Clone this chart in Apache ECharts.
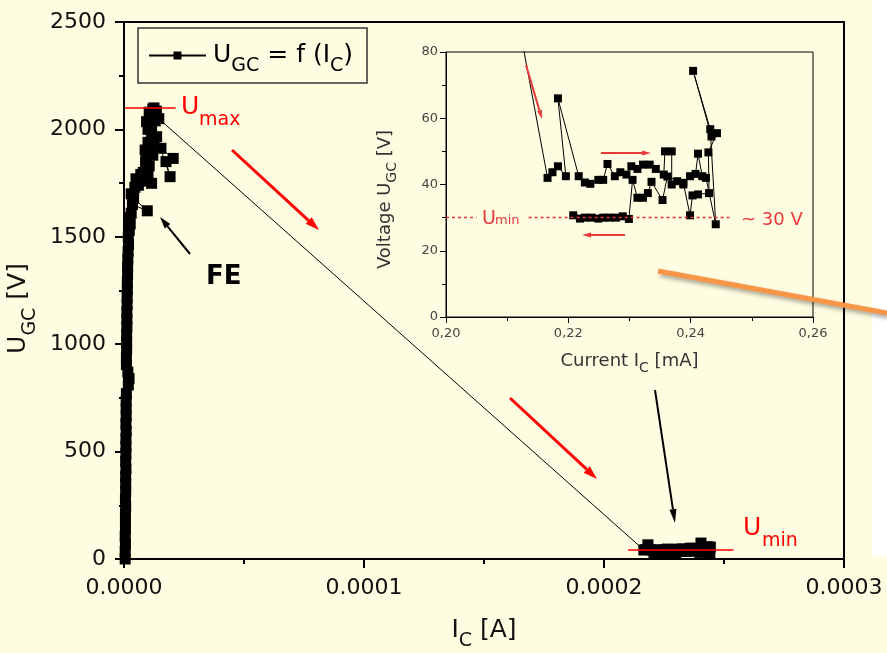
<!DOCTYPE html>
<html>
<head>
<meta charset="utf-8">
<title>UGC = f (IC)</title>
<script src="https://cdn.jsdelivr.net/npm/echarts@6/dist/echarts.min.js"></script>
<style>
  html, body { margin: 0; padding: 0; background: #fffde1; }
  #chart { width: 887px; height: 653px; }
</style>
</head>
<body>
<div id="chart"></div>
<script>
// rising part along the voltage axis (current in mA, voltage in V)
const barCurrent = [0.0005, 0.0005, 0.0006, 0.0005, 0.0006, 0.0006, 0.0006, 0.0007, 0.0006, 0.0007,
  0.0007, 0.0007, 0.0008, 0.0007, 0.0008, 0.0008, 0.0008, 0.0009, 0.0008, 0.0009,
  0.0009, 0.0009, 0.0010, 0.0018, 0.0021, 0.0016, 0.0010, 0.0010, 0.0011, 0.0011,
  0.0011, 0.0012, 0.0012, 0.0012, 0.0013, 0.0013, 0.0014, 0.0014, 0.0015, 0.0015,
  0.0016, 0.0017, 0.0019]
const barVoltage = [0, 35, 70, 105, 140, 175, 210, 245, 280, 315,
  350, 385, 420, 455, 490, 525, 560, 595, 630, 665,
  700, 735, 770, 810, 840, 870, 905, 940, 975, 1010,
  1045, 1080, 1115, 1150, 1185, 1220, 1255, 1290, 1325, 1360,
  1395, 1430, 1465]

// field emission cluster up to Umax (mA, V)
const feCurrent = [0.0018, 0.0022, 0.0026, 0.0020, 0.0030, 0.0035, 0.0097, 0.0040, 0.0030, 0.0045,
  0.0060, 0.0050, 0.0070, 0.0065, 0.0080, 0.0095, 0.0115, 0.0100, 0.0105, 0.0090,
  0.0095, 0.0120, 0.0088, 0.0100, 0.0110, 0.0125, 0.0154, 0.0205, 0.0175, 0.0192,
  0.0136, 0.0115, 0.0100, 0.0110, 0.0094, 0.0110, 0.0105, 0.0120, 0.0115, 0.0130,
  0.0135, 0.0125, 0.0145]
const feVoltage = [1500, 1530, 1560, 1590, 1610, 1650, 1621, 1680, 1700, 1730,
  1740, 1770, 1790, 1760, 1800, 1760, 1749, 1790, 1830, 1850,
  1870, 1880, 1904, 1940, 1920, 1960, 1912, 1865, 1850, 1780,
  1966, 1990, 2000, 2020, 2036, 2050, 2080, 2095, 2070, 2040,
  2085, 2100, 2050]

// low voltage branch after breakdown (mA, V) - shown in the inset
const lowCurrent = [0.2166, 0.2174, 0.2183, 0.2196, 0.2183, 0.2217, 0.2227, 0.2236, 0.2249, 0.2257,
  0.2264, 0.2276, 0.2285, 0.2295, 0.2303, 0.2313, 0.2322, 0.2333, 0.2343, 0.2356,
  0.2358, 0.2369, 0.2369, 0.2378, 0.2388, 0.2399, 0.2408, 0.2412, 0.2419, 0.2425,
  0.2441, 0.2432, 0.2404, 0.2434, 0.2443, 0.2429, 0.2430, 0.2412, 0.2403, 0.2399,
  0.2388, 0.2362, 0.2354, 0.2336, 0.2330, 0.2322, 0.2313, 0.2305, 0.2299, 0.2289,
  0.2278, 0.2267, 0.2257, 0.2249, 0.2238, 0.2227, 0.2219, 0.2208]
const lowVoltage = [42, 43.7, 45.5, 42.5, 66, 42.5, 40.6, 40.2, 41.4, 41.4,
  46.2, 42.5, 43.7, 43, 45.5, 44.7, 46, 46, 44.7, 43,
  50, 50, 40, 41, 40, 42.5, 43.2, 49.3, 42.5, 42,
  28, 56.7, 74.3, 54.5, 55.5, 49.7, 37.4, 37, 36.7, 30.7,
  40.5, 42.4, 35.3, 40.8, 37.4, 36, 36, 41.4, 29.6, 30.4,
  30, 30, 30, 29.7, 30, 30, 29.7, 30.7]

const mainXTicks = [0, 0.0001, 0.0002, 0.0003]   // A
const mainYTicks = [0, 500, 1000, 1500, 2000, 2500]
const insetXTicks = [0.20, 0.22, 0.24, 0.26]      // mA
const insetYTicks = [0, 20, 40, 60, 80]

const uMax = 2103
const uMinMain = 42
const uMinInset = 30

const FONT = 'DejaVu Sans'
const BG = '#fffde1'
const RED = '#ff0000'
const RED2 = '#e8383a'

const currentMA = barCurrent.concat(feCurrent, lowCurrent)
const voltage = barVoltage.concat(feVoltage, lowVoltage)
const mainData = currentMA.map((c, i) => [c / 1000, voltage[i]])
const insetData = currentMA.map((c, i) => [c, voltage[i]])

const chart = echarts.init(document.getElementById('chart'))

const arrow = (x1, y1, x2, y2, color, w, hl, hw) => {
  const a = Math.atan2(y2 - y1, x2 - x1)
  const bx = x2 - hl * Math.cos(a)
  const by = y2 - hl * Math.sin(a)
  const px = -Math.sin(a) * hw / 2
  const py = Math.cos(a) * hw / 2
  return [
    { type: 'line', z: 10, shape: { x1, y1, x2: bx, y2: by }, style: { stroke: color, lineWidth: w } },
    { type: 'polygon', z: 10, shape: { points: [[x2, y2], [bx + px, by + py], [bx - px, by - py]] }, style: { fill: color } },
  ]
}

const txt = (x, y, text, size, color, weight) => ({
  type: 'text', z: 11, x, y,
  style: { text, fill: color, font: (weight || 'normal') + ' ' + size + 'px "' + FONT + '"', align: 'left', verticalAlign: 'middle' },
})

const mainAxisCommon = {
  z: 5,
  axisLine: { lineStyle: { color: '#000', width: 2 } },
  axisTick: { inside: false, length: 9, lineStyle: { color: '#000', width: 2 } },
  minorTick: { show: true, splitNumber: 2, length: 5, lineStyle: { color: '#000', width: 2 } },
  splitLine: { show: false },
  nameLocation: 'middle',
}

const insetAxisCommon = {
  axisLine: { lineStyle: { color: '#000', width: 1 } },
  axisTick: { inside: false, length: 6, lineStyle: { color: '#000', width: 1 } },
  minorTick: { show: true, splitNumber: 2, length: 4, lineStyle: { color: '#000', width: 1 } },
  splitLine: { show: false },
  nameLocation: 'middle',
}

const option = {
  backgroundColor: BG,
  animation: false,
  legend: {
    data: ['ugc'],
    left: 138,
    top: 28,
    padding: [7, 14, 7, 10],
    borderColor: '#333',
    borderWidth: 1.5,
    itemWidth: 57,
    itemHeight: 10,
    formatter: () => '{a|U}{s|GC}{a| = f (I}{s|C}{a|)}',
    textStyle: {
      fontFamily: FONT,
      color: '#000',
      padding: [0, 0, 0, 2],
      rich: {
        a: { fontFamily: FONT, fontSize: 25, lineHeight: 30, color: '#000' },
        s: { fontFamily: FONT, fontSize: 19, lineHeight: 30, padding: [22, 0, 0, 0], color: '#000' },
      },
    },
  },
  grid: [
    { left: 124, right: 43, top: 22, bottom: 94, outerBoundsMode: 'none', containLabel: false, show: true, borderColor: '#000', borderWidth: 2, backgroundColor: 'transparent' },
    { left: 446, right: 74, top: 52, bottom: 336, outerBoundsMode: 'none', containLabel: false, show: true, borderColor: '#000', borderWidth: 1, backgroundColor: 'transparent' },
  ],
  xAxis: [
    {
      ...mainAxisCommon,
      type: 'value', gridIndex: 0,
      min: mainXTicks[0], max: mainXTicks[mainXTicks.length - 1], interval: 0.0001,
      axisLabel: { fontFamily: FONT, fontSize: 22, color: '#111', margin: 18, formatter: v => v.toFixed(4) },
      name: '{a|I}{s|C}{a| [A]}',
      nameGap: 56,
      nameTextStyle: {
        rich: {
          a: { fontFamily: FONT, fontSize: 25, lineHeight: 30, color: '#111' },
          s: { fontFamily: FONT, fontSize: 19, lineHeight: 30, padding: [22, 0, 0, 0], color: '#111' },
        },
      },
    },
    {
      ...insetAxisCommon,
      type: 'value', gridIndex: 1,
      min: insetXTicks[0], max: insetXTicks[insetXTicks.length - 1], interval: 0.02,
      axisLabel: { fontFamily: FONT, fontSize: 13, color: '#444', margin: 10, formatter: v => v.toFixed(2).replace('.', ',') },
      name: '{a|Current I}{s|C}{a| [mA]}',
      nameGap: 33,
      nameTextStyle: {
        rich: {
          a: { fontFamily: FONT, fontSize: 18, lineHeight: 22, color: '#333' },
          s: { fontFamily: FONT, fontSize: 14, lineHeight: 22, padding: [14, 0, 0, 0], color: '#333' },
        },
      },
    },
  ],
  yAxis: [
    {
      ...mainAxisCommon,
      type: 'value', gridIndex: 0,
      min: mainYTicks[0], max: mainYTicks[mainYTicks.length - 1], interval: 500,
      axisLabel: { fontFamily: FONT, fontSize: 22, color: '#111', margin: 18, formatter: v => String(v) },
      name: '{a|U}{s|GC}{a| [V]}',
      nameGap: 88,
      nameTextStyle: {
        padding: [0, 36, 0, 0],
        rich: {
          a: { fontFamily: FONT, fontSize: 25, lineHeight: 30, color: '#111' },
          s: { fontFamily: FONT, fontSize: 19, lineHeight: 30, padding: [22, 0, 0, 0], color: '#111' },
        },
      },
    },
    {
      ...insetAxisCommon,
      type: 'value', gridIndex: 1,
      min: insetYTicks[0], max: insetYTicks[insetYTicks.length - 1], interval: 20,
      axisLabel: { fontFamily: FONT, fontSize: 13, color: '#444', margin: 8 },
      name: '{a|Voltage U}{s|GC}{a| [V]}',
      nameGap: 50,
      nameTextStyle: {
        padding: [0, 30, 0, 0],
        rich: {
          a: { fontFamily: FONT, fontSize: 18, lineHeight: 22, color: '#333' },
          s: { fontFamily: FONT, fontSize: 14, lineHeight: 22, padding: [14, 0, 0, 0], color: '#333' },
        },
      },
    },
  ],
  series: [
    {
      name: 'ugc',
      type: 'line',
      xAxisIndex: 0, yAxisIndex: 0,
      data: mainData,
      symbol: 'rect',
      symbolSize: 11,
      showAllSymbol: true,
      itemStyle: { color: '#000' },
      lineStyle: { color: '#000', width: 1 },
      markLine: {
        silent: true, symbol: 'none', label: { show: false },
        lineStyle: { color: RED, width: 1.5, type: 'solid' },
        data: [
          [{ coord: [0, uMax] }, { coord: [0.0000215, uMax] }],
          [{ coord: [0.00021, uMinMain] }, { coord: [0.000254, uMinMain] }],
        ],
      },
    },
    {
      name: 'inset',
      type: 'line',
      xAxisIndex: 1, yAxisIndex: 1,
      data: insetData,
      symbol: 'rect',
      symbolSize: 8,
      showAllSymbol: true,
      clip: true,
      itemStyle: { color: '#000' },
      lineStyle: { color: '#000', width: 1 },
      markLine: {
        silent: true, symbol: 'none', label: { show: false },
        lineStyle: { color: RED2, width: 1.3, type: [3, 3] },
        data: [
          [{ coord: [0.20, uMinInset] }, { coord: [0.2050, uMinInset] }],
          [{ coord: [0.2135, uMinInset] }, { coord: [0.2464, uMinInset] }],
        ],
      },
    },
  ],
  graphic: [
    // hide the parts of the symbols that spill over the main axes (the plot clips them)
    { type: 'rect', z: 3, shape: { x: 100, y: 15, width: 23, height: 552 }, style: { fill: BG } },
    { type: 'rect', z: 3, shape: { x: 100, y: 561, width: 60, height: 7 }, style: { fill: BG } },
    // white strip cut at the right edge
    { type: 'rect', z: 9, shape: { x: 872, y: 0, width: 15, height: 556 }, style: { fill: '#fff' } },
    // orange pointer line
    {
      type: 'line', z: 10, shape: { x1: 658, y1: 271, x2: 887, y2: 313 },
      style: { stroke: '#f79646', lineWidth: 5, shadowBlur: 4, shadowColor: 'rgba(0,0,0,0.35)', shadowOffsetX: 2, shadowOffsetY: 3 },
    },
    ...arrow(232, 150, 319, 230, RED, 3, 14, 9),
    ...arrow(510, 398, 597, 479, RED, 3, 14, 9),
    ...arrow(190, 254, 160, 217, '#000', 2, 12, 7),
    ...arrow(655, 390, 675, 523, '#000', 2, 14, 7),
    ...arrow(526, 65, 542, 119, RED2, 2, 9, 5),
    ...arrow(601, 153, 651, 153, RED2, 2, 9, 5),
    ...arrow(625, 235, 582, 235, RED2, 2, 9, 5),
    txt(181, 107, 'U', 25, RED),
    txt(199, 120, 'max', 19, RED),
    txt(743, 528, 'U', 25, RED),
    txt(762, 541, 'min', 19, RED),
    txt(206, 277, 'FE', 26, '#000', 'bold'),
    txt(482, 219, 'U', 19, RED2),
    txt(495, 221, 'min', 13, RED2),
    txt(741, 220, '~ 30 V', 18, RED2),
  ],
}

chart.setOption(option)
window.addEventListener('resize', () => chart.resize())
</script>
</body>
</html>
